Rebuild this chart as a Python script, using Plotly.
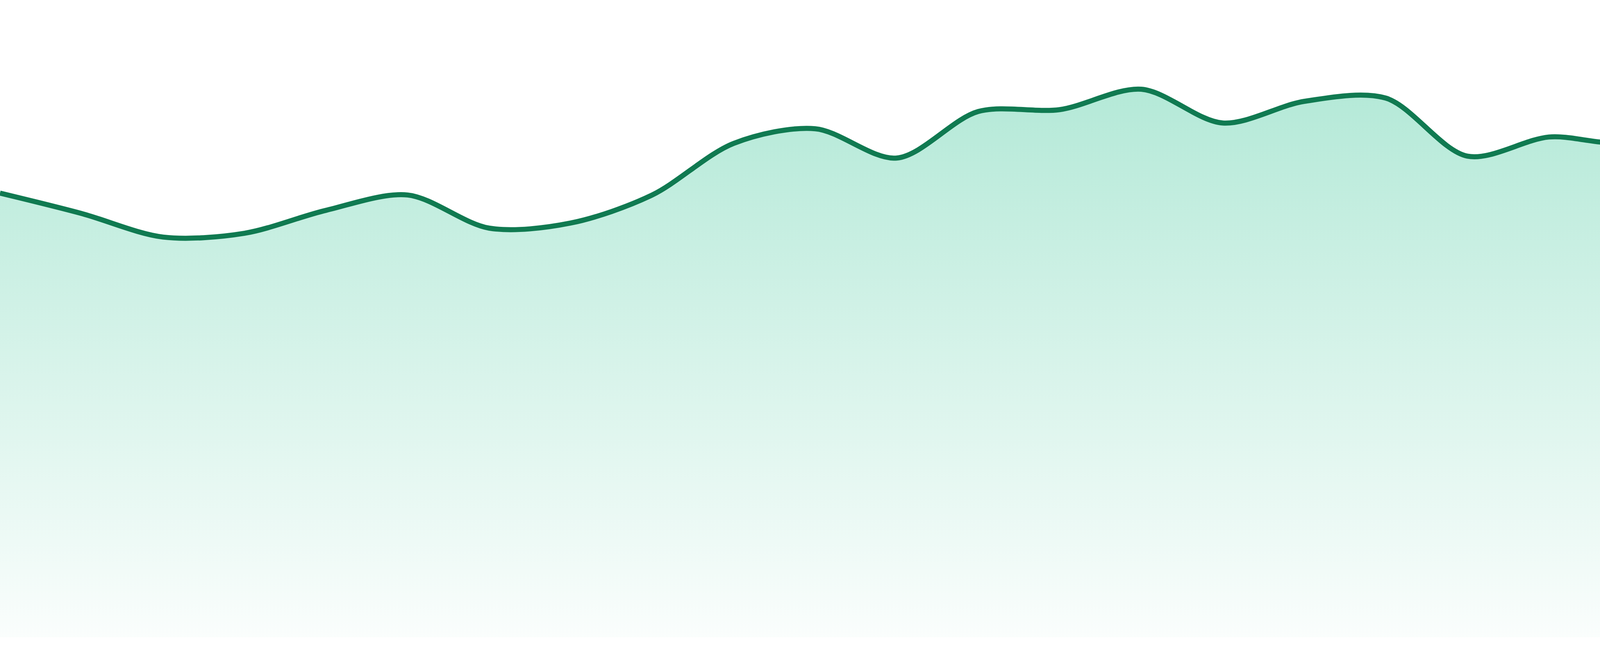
import plotly.graph_objects as go

# 24 evenly spaced samples, no axes shown in the reference
periodo = list(range(24))
valores = [69.7, 66.5, 62.8, 63.4, 67.0, 69.4, 64.2, 65.0, 69.4, 77.5, 79.8, 75.2,
           82.5, 82.8, 86.0, 80.7, 84.1, 84.6, 75.5, 78.5, 77.9, 87.5, 81.5, 76.3]

fig = go.Figure()
fig.add_trace(go.Scatter(
    x=periodo, y=valores,
    mode="lines",
    line=dict(color="#107a51", width=13, shape="spline", smoothing=0.9),
    fill="tozeroy",
    fillgradient=dict(
        type="vertical",
        start=0, stop=100,
        colorscale=[[0, "rgba(16,185,129,0.02)"], [1, "rgba(16,185,129,0.36)"]],
    ),
    hoverinfo="skip",
    showlegend=False,
))

fig.update_layout(
    width=4800, height=1680,
    margin=dict(l=0, r=0, t=0, b=48),
    paper_bgcolor="white", plot_bgcolor="white",
    xaxis=dict(range=[0, 23], visible=False, showgrid=False, zeroline=False),
    yaxis=dict(range=[0, 100], visible=False, showgrid=False, zeroline=False),
)

# page body has a default 8px margin, drop it so the chart sits at 0,0
fig.write_html("out.html", post_script="document.body.style.margin='0';")
